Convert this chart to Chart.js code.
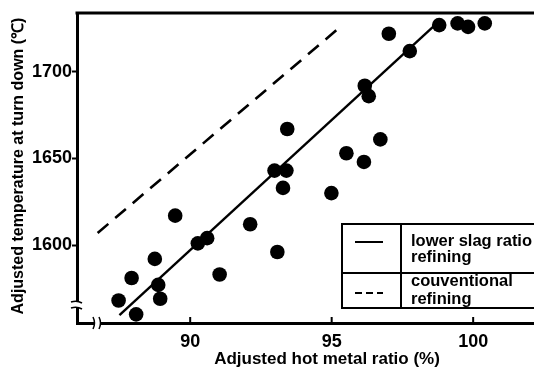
<!DOCTYPE html>
<html><head><meta charset="utf-8">
<script src="https://cdn.jsdelivr.net/npm/chart.js@4.4.1/dist/chart.umd.min.js"></script>
<style>html,body{margin:0;padding:0;background:#fff;overflow:hidden}</style>
</head><body>
<canvas id="c" width="534" height="368"></canvas>
<script>
// ---- data ----
const hotMetalRatio = [98.80, 99.45, 99.82, 100.41, 97.02, 97.76, 96.17, 96.31, 93.43, 96.72, 95.52, 96.14, 92.98, 93.40,
  93.28, 94.99, 89.47, 92.12, 90.27, 90.60, 93.08, 88.75, 87.93, 91.04, 88.87, 88.94, 87.47, 88.09];
const turnDownTemp = [1727, 1728, 1726, 1728, 1722, 1712, 1692, 1686, 1667, 1661, 1653, 1648, 1643, 1643,
  1633, 1630, 1617, 1612, 1601, 1604, 1596, 1592, 1581, 1583, 1577, 1569, 1568, 1560];
const lowerSlagLineX = [87.5, 98.85];
const lowerSlagLineY = [1559.5, 1730];
const conventionalLineX = [86.73, 95.38];
const conventionalLineY = [1607, 1727];
const xTickValues = [90, 95, 100];
const yTickValues = [1600, 1650, 1700];
const legendLines = [["lower slag ratio", "refining"], ["couventional", "refining"]];
const xTitle = "Adjusted hot metal ratio (%)";
const yTitle = "Adjusted temperature at turn down (\u2103)";

const toPts = (xs, ys) => xs.map((x, i) => ({x, y: ys[i]}));
const FONT = '"Liberation Sans", Arial, sans-serif';

const decor = {
  id: 'decor',
  afterDraw(chart) {
    const {ctx, chartArea: a} = chart;
    const xs = chart.scales.x;
    ctx.save();
    ctx.strokeStyle = '#000';
    ctx.lineCap = 'butt';
    // top frame line
    ctx.lineWidth = 3;
    ctx.beginPath(); ctx.moveTo(a.left - 1.5, a.top); ctx.lineTo(a.right + 10, a.top); ctx.stroke();
    // x ticks pointing inward
    ctx.lineWidth = 2;
    xTickValues.forEach(v => {
      const px = xs.getPixelForValue(v);
      ctx.beginPath(); ctx.moveTo(px, a.bottom); ctx.lineTo(px, a.bottom - 6); ctx.stroke();
    });
    // y axis break
    ctx.fillStyle = '#fff';
    ctx.fillRect(a.left - 4, a.bottom - 21, 8, 6);
    ctx.lineWidth = 1.5;
    ctx.beginPath();
    ctx.moveTo(a.left - 6, a.bottom - 21); ctx.quadraticCurveTo(a.left, a.bottom - 23, a.left + 5, a.bottom - 20);
    ctx.moveTo(a.left - 6, a.bottom - 15); ctx.quadraticCurveTo(a.left, a.bottom - 17, a.left + 5, a.bottom - 14);
    ctx.stroke();
    // x axis break
    ctx.fillRect(a.left + 17, a.bottom - 4, 6, 8);
    ctx.beginPath();
    ctx.moveTo(a.left + 16, a.bottom - 6); ctx.quadraticCurveTo(a.left + 19, a.bottom, a.left + 16, a.bottom + 6);
    ctx.moveTo(a.left + 22, a.bottom - 6); ctx.quadraticCurveTo(a.left + 25, a.bottom, a.left + 22, a.bottom + 6);
    ctx.stroke();
    // legend box
    const L = a.right - 192, T = a.top + 211, R = a.right + 5, M = L + 59, H = 50;
    ctx.fillStyle = '#fff';
    ctx.fillRect(L, T, R - L, 2 * H - 16);
    ctx.lineWidth = 2;
    ctx.strokeRect(L, T, R - L, 2 * H - 16);
    ctx.beginPath(); ctx.moveTo(L, T + H - 1); ctx.lineTo(R, T + H - 1);
    ctx.moveTo(M, T); ctx.lineTo(M, T + 2 * H - 16); ctx.stroke();
    ctx.lineWidth = 2;
    ctx.beginPath(); ctx.moveTo(L + 13, T + 18); ctx.lineTo(L + 41, T + 18); ctx.stroke();
    ctx.setLineDash([7, 4]);
    ctx.beginPath(); ctx.moveTo(L + 13, T + 69); ctx.lineTo(L + 41, T + 69); ctx.stroke();
    ctx.setLineDash([]);
    ctx.fillStyle = '#000';
    ctx.font = 'bold 16.5px ' + FONT;
    ctx.textBaseline = 'middle'; ctx.textAlign = 'left';
    ctx.fillText(legendLines[0][0], M + 10, T + 17);
    ctx.fillText(legendLines[0][1], M + 10, T + 33);
    ctx.fillText(legendLines[1][0], M + 10, T + 57);
    ctx.fillText(legendLines[1][1], M + 10, T + 75);
    // axis titles
    ctx.textAlign = 'center';
    ctx.font = 'bold 17px ' + FONT;
    ctx.fillText(xTitle, 327, 359);
    ctx.save();
    ctx.translate(19, 166);
    ctx.rotate(-Math.PI / 2);
    ctx.font = 'bold 16px ' + FONT;
    ctx.fillText(yTitle, 0, 0);
    ctx.restore();
    ctx.restore();
  }
};

new Chart(document.getElementById('c'), {
  type: 'scatter',
  data: {
    datasets: [
      { label: 'data', data: toPts(hotMetalRatio, turnDownTemp), pointRadius: 7.3, pointHoverRadius: 7.3,
        backgroundColor: '#000', borderWidth: 0, showLine: false, clip: false },
      { label: 'lower slag ratio refining', data: toPts(lowerSlagLineX, lowerSlagLineY), showLine: true,
        pointRadius: 0, borderColor: '#000', borderWidth: 2.4 },
      { label: 'conventional refining', data: toPts(conventionalLineX, conventionalLineY), showLine: true,
        pointRadius: 0, borderColor: '#000', borderWidth: 2.6, borderDash: [14, 9] }
    ]
  },
  options: {
    responsive: false, animation: false, devicePixelRatio: 1,
    layout: { autoPadding: false, padding: { top: 13, right: 0, left: 0, bottom: 0 } },
    plugins: { legend: { display: false }, tooltip: { enabled: false } },
    scales: {
      x: {
        type: 'linear', min: 86.0, max: 102.15,
        afterBuildTicks: s => { s.ticks = xTickValues.map(v => ({value: v})); },
        afterFit: s => { s.height = 45; s.paddingLeft = 0; s.paddingRight = 0; },
        grid: { display: false },
        border: { display: true, color: '#000', width: 3 },
        ticks: { color: '#000', font: { family: FONT, size: 18, weight: 'bold' }, padding: 0, callback: v => String(v) },
        title: { display: false }
      },
      y: {
        type: 'linear', min: 1555, max: 1734,
        afterBuildTicks: s => { s.ticks = yTickValues.map(v => ({value: v})); },
        afterFit: s => { s.width = 77; s.paddingTop = 0; s.paddingBottom = 0; },
        grid: { display: true, drawOnChartArea: false, drawTicks: true, tickLength: 5, tickColor: '#000', tickWidth: 2 },
        border: { display: true, color: '#000', width: 3 },
        ticks: { color: '#000', font: { family: FONT, size: 18, weight: 'bold' }, padding: 0, callback: v => String(v) },
        title: { display: false }
      }
    }
  },
  plugins: [decor]
});
</script>
</body></html>
